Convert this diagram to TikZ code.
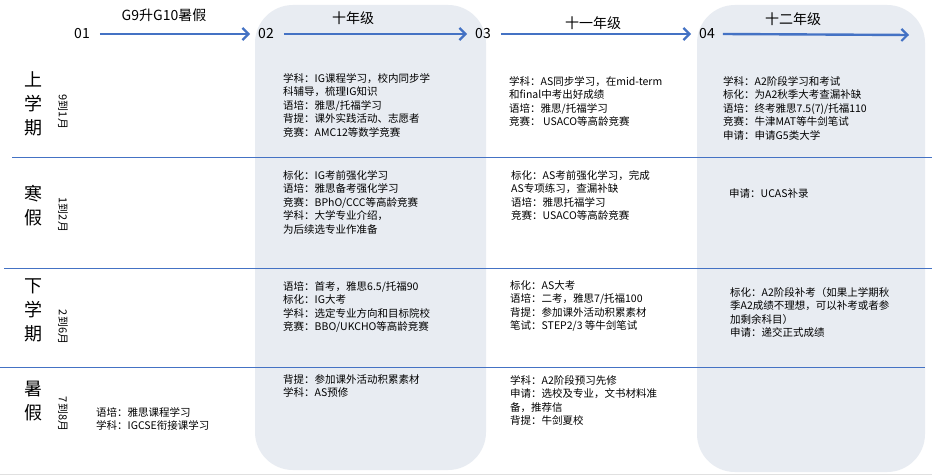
\documentclass[tikz,border=0pt]{standalone}
\usepackage{fontspec}
\setmainfont{Noto Sans CJK SC}
\usetikzlibrary{arrows.meta}
\definecolor{bl}{RGB}{68,114,196}
\definecolor{bandc}{RGB}{232,236,242}
\begin{document}
\begin{tikzpicture}[x=1pt,y=-1pt,
  band/.style={fill=bandc, rounded corners=38pt},
  sep/.style={draw=bl, line width=0.9pt},
  arr/.style={-{Straight Barb[length=6pt,width=12pt,line width=2.2pt]}, draw=bl, line width=2.4pt},
  num/.style={font=\fontsize{14}{16}\selectfont, inner sep=0},
  ttl/.style={font=\fontsize{14}{16}\selectfont, inner sep=0},
  txt/.style={font=\fontsize{10.5}{13.6}\selectfont, align=left, anchor=north west, inner sep=0},
  big/.style={font=\fontsize{18}{24}\selectfont, align=center, inner sep=0},
  mon/.style={font=\fontsize{11}{12}\selectfont, rotate=-90, inner sep=0}]
\useasboundingbox (0,0) rectangle (932,476);
\fill[white] (0,0) rectangle (932,476);
\fill[band] (255,5) rectangle (486,470);
\fill[band] (697,5) rectangle (925,472);
\draw[black!12, line width=1pt] (0,474.5) -- (932,474.5);
\draw[sep] (12,157) -- (932,157);
\draw[sep] (4,268) -- (932,268);
\draw[sep] (0,367) -- (925,367);
% headers
\node[num] (n1) at (82,34) {01};
\node[num] (n2) at (266,34) {02};
\node[num] (n3) at (483,34) {03};
\node[num] (n4) at (707,34) {04};
\coordinate (e4) at (909,35);
\draw[arr] ([xshift=10pt]n1.east) -- ([xshift=-8pt]n2.west);
\draw[arr] ([xshift=10pt]n2.east) -- ([xshift=-8pt]n3.west);
\draw[arr] ([xshift=10pt]n3.east) -- ([xshift=-8pt]n4.west);
\draw[arr] ([xshift=8pt]n4.east) -- (e4);
\node[ttl] (t1) at (164,15) {G9升G10暑假};
\node[ttl] (t2) at (353,18) {十年级};
\node[ttl] (t3) at (593,23) {十一年级};
\node[ttl] (t4) at (793,19) {十二年级};
% row labels
\node[big] (r1) at (33,104) {上\\学\\期};
\node[mon] (m1) at (63,112) {9到1月};
\node[big] (r2) at (33,206) {寒\\假};
\node[mon] (m2) at (63,215) {1到2月};
\node[big] (r3) at (33,310) {下\\学\\期};
\node[mon] (m3) at (63,327) {2到6月};
\node[big] (r4) at (33,401) {暑\\假};
\node[mon] (m4) at (63,414) {7到8月};
% col1
\node[txt] (c1d) at (96,407) {语培：雅思课程学习\\学科：IGCSE衔接课学习};
% col2
\node[txt] (c2a) at (283,73) {学科：IG课程学习，校内同步学\\科辅导，梳理IG知识\\语培：雅思/托福学习\\背提：课外实践活动、志愿者\\竞赛：AMC12等数学竞赛};
\node[txt] (c2b) at (283,170) {标化：IG考前强化学习\\语培：雅思备考强化学习\\竞赛：BPhO/CCC等高龄竞赛\\学科：大学专业介绍，\\为后续选专业作准备};
\node[txt] (c2c) at (283,281) {语培：首考，雅思6.5/托福90\\标化：IG大考\\学科：选定专业方向和目标院校\\竞赛：BBO/UKCHO等高龄竞赛};
\node[txt] (c2d) at (283,374) {背提：参加课外活动积累素材\\学科：AS预修};
% col3
\node[txt] (c3a) at (509,76) {学科：AS同步学习，在mid-term\\和final中考出好成绩\\语培：雅思/托福学习\\竞赛： USACO等高龄竞赛};
\node[txt] (c3b) at (511,170) {标化：AS考前强化学习，完成\\AS专项练习，查漏补缺\\语培：雅思托福学习\\竞赛：USACO等高龄竞赛};
\node[txt] (c3c) at (510,280) {标化：AS大考\\语培：二考，雅思7/托福100\\背提：参加课外活动积累素材\\笔试：STEP2/3 等牛剑笔试};
\node[txt] (c3d) at (510,375) {学科：A2阶段预习先修\\申请：选校及专业，文书材料准\\备，推荐信\\背提：牛剑夏校};
% col4
\node[txt] (c4a) at (723,76) {学科：A2阶段学习和考试\\标化：为A2秋季大考查漏补缺\\语培：终考雅思7.5(7)/托福110\\竞赛：牛津MAT等牛剑笔试\\申请：申请G5类大学};
\node[txt] (c4b) at (729,188) {申请：UCAS补录};
\node[txt] (c4c) at (730,287) {标化：A2阶段补考（如果上学期秋\\季A2成绩不理想，可以补考或者参\\加剩余科目）\\申请：递交正式成绩};
\end{tikzpicture}
\end{document}
